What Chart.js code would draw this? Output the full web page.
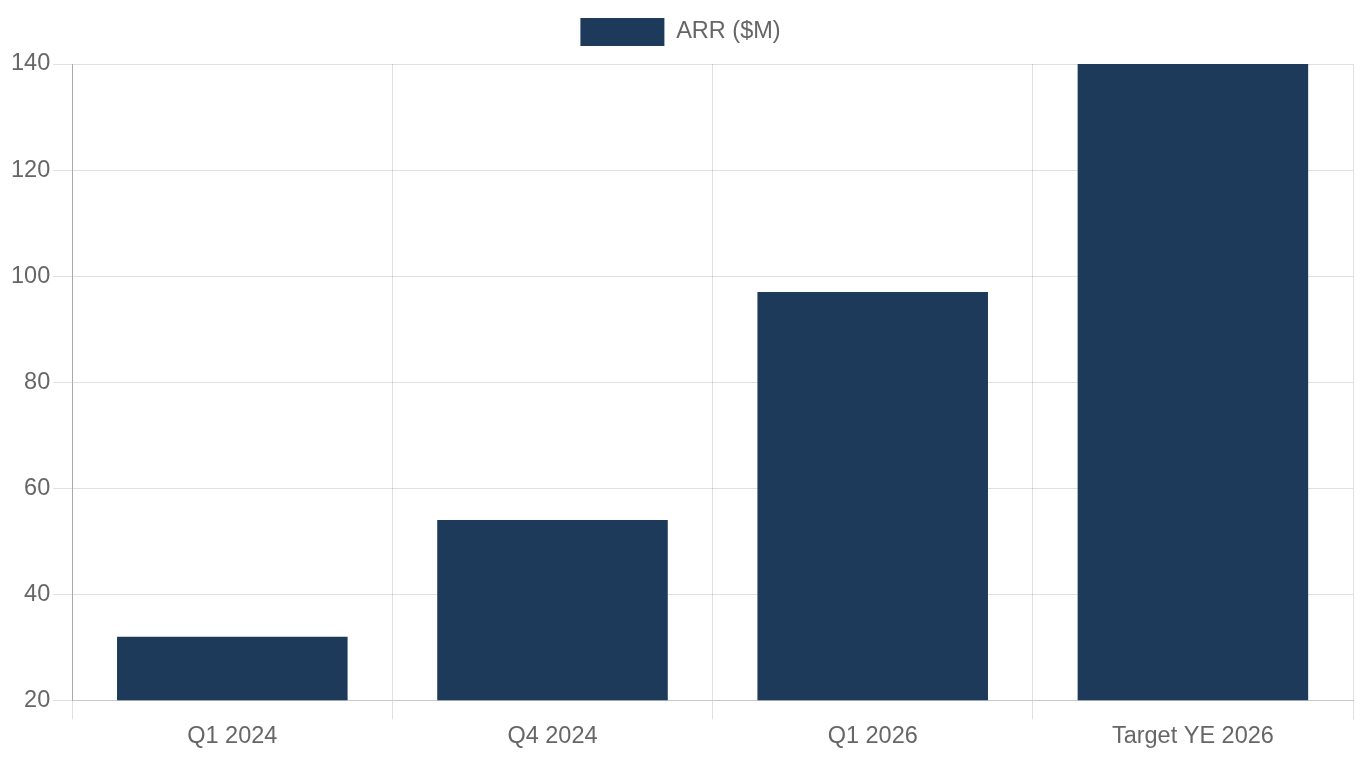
<!DOCTYPE html>
<html>
<head>
<meta charset="utf-8">
<script src="https://cdn.jsdelivr.net/npm/chart.js@4.4.1/dist/chart.umd.min.js"></script>
<style>
html,body{margin:0;padding:0;background:#fff;}
#wrap{position:relative;width:1360px;height:760px;}
</style>
</head>
<body>
<div id="wrap"><canvas id="c"></canvas></div>
<script>
const categories = ["Q1 2024", "Q4 2024", "Q1 2026", "Target YE 2026"];
const arrValues = [32, 54, 97, 140];
const seriesLabel = "ARR ($M)";

Chart.defaults.font.family = "'Liberation Sans', Arial, Helvetica, sans-serif";
Chart.defaults.font.size = 23.5;
Chart.defaults.color = "#666";

const legendGap = {
  id: "legendGap",
  afterInit(chart) {
    if (chart.legend) {
      const orig = chart.legend.fit;
      chart.legend.fit = function () { orig.call(this); this.height += 8; };
    }
  }
};

new Chart(document.getElementById("c"), {
  type: "bar",
  data: {
    labels: categories,
    datasets: [{
      label: seriesLabel,
      data: arrValues,
      backgroundColor: "#1e3a5a",
      borderWidth: 0
    }]
  },
  options: {
    responsive: true,
    maintainAspectRatio: false,
    animation: false,
    layout: { padding: { left: 8, right: 7, top: 8, bottom: 6.5 } },
    plugins: {
      legend: {
        labels: { boxWidth: 84, boxHeight: 28, padding: 10, font: { size: 23.5 } }
      },
      tooltip: { enabled: false }
    },
    scales: {
      x: {
        grid: { tickLength: 19, color: "rgba(0,0,0,0.12)" },
        border: { color: "#c8c8c8" },
        ticks: { font: { size: 23.5 } }
      },
      y: {
        min: 20,
        max: 140,
        ticks: { stepSize: 20, font: { size: 23.5 } },
        grid: { tickLength: 19, color: "rgba(0,0,0,0.12)" },
        border: { color: "#aaaaaa" }
      }
    }
  },
  plugins: [legendGap]
});
</script>
</body>
</html>
